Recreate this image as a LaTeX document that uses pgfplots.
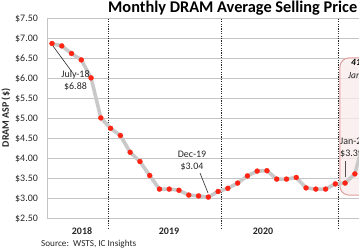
\documentclass[border=0pt]{standalone}
\usepackage{fontspec}
\setmainfont{Carlito}
\usepackage{pgfplots}
\pgfplotsset{compat=1.18}

\definecolor{gridgray}{HTML}{C4C4C4}
\definecolor{linegray}{HTML}{C9C9C9}
\definecolor{dotred}{HTML}{FF2414}
\definecolor{boxedge}{HTML}{E0A0A0}
\definecolor{boxfill}{HTML}{F9EBEB}
\definecolor{txt}{HTML}{262626}

\tikzset{yearline/.style={black!85, line width=0.8bp, dash pattern=on 1.2bp off 1.2bp}}

\begin{document}
\begin{tikzpicture}
% visible window of the chart
\useasboundingbox (0,0) rectangle (359bp,250bp);
\clip (0,0) rectangle (359bp,250bp);

\begin{axis}[
  at={(47.1bp,31.3bp)}, anchor=south west,
  scale only axis, width=400.6bp, height=200bp,
  xmin=-0.5, xmax=40.5, ymin=2.5, ymax=7.5,
  xtick=\empty,
  ytick={2.5,3,3.5,4,4.5,5,5.5,6,6.5,7,7.5},
  ymajorgrids,
  grid style={gridgray, line width=1.2bp},
  axis x line*=bottom, axis y line*=left,
  axis line style={gridgray, line width=1.2bp, -},
  major tick length=0pt,
  /pgf/number format/assume math mode=true,
  yticklabel={\$\pgfmathprintnumber[fixed,fixed zerofill,precision=2]{\tick}},
  yticklabel style={font=\fontsize{10}{12}\selectfont, text=txt, inner sep=0pt, xshift=-9bp},
  clip=false,
]
% highlight box for the 2021 run-up
\draw[boxedge, fill=boxfill, fill opacity=0.75, line width=1bp, rounded corners=9bp]
  (axis cs:29.47,6.52) rectangle (axis cs:38,3.09);

% year separators
\draw[yearline] (axis cs:5.73,7.5) -- (axis cs:5.73,2.24);
\draw[yearline] (axis cs:17.3,7.5) -- (axis cs:17.3,2.24);
\draw[yearline] (axis cs:29.27,7.5) -- (axis cs:29.27,2.24);

% monthly ASP, Jul-18 onwards
\addplot[linegray, line width=3.6bp, line join=round,
  mark=*, mark size=2.5bp,
  mark options={solid, fill=dotred, draw=dotred, line width=0.3bp}]
coordinates {
  (0,6.88) (1,6.82) (2,6.63) (3,6.47) (4,6.02) (5,5.02)
  (6,4.76) (7,4.58) (8,4.16) (9,3.93) (10,3.58) (11,3.24)
  (12,3.24) (13,3.21) (14,3.09) (15,3.07) (16,3.04) (17,3.18)
  (18,3.26) (19,3.39) (20,3.57) (21,3.69) (22,3.70) (23,3.49)
  (24,3.49) (25,3.53) (26,3.27) (27,3.24) (28,3.24) (29,3.37)
  (30,3.39) (31,3.62) (32,4.55) (33,4.75) (34,4.80)
};
\end{axis}

% title, axis label, years, source
\node[font=\bfseries\fontsize{16.4}{18}\selectfont, anchor=base west, inner sep=0pt]
  at (108bp,237.5bp) {Monthly DRAM Average Selling Price};
\node[rotate=90, font=\bfseries\fontsize{10}{12}\selectfont, text=txt, inner sep=0pt]
  at (6bp,132bp) {DRAM ASP (\$)};
\node[font=\bfseries\fontsize{10}{12}\selectfont, text=txt, inner sep=0pt] at (82bp,19bp) {2018};
\node[font=\bfseries\fontsize{10}{12}\selectfont, text=txt, inner sep=0pt] at (169bp,19bp) {2019};
\node[font=\bfseries\fontsize{10}{12}\selectfont, text=txt, inner sep=0pt] at (263bp,19bp) {2020};
\node[anchor=west, font=\fontsize{9.2}{11}\selectfont, text=txt, inner sep=0pt]
  at (41bp,6bp) {Source:\ \ WSTS, IC Insights};

% callouts
\node[align=center, font=\fontsize{10}{12}\selectfont, text=txt, inner sep=0pt]
  at (75.5bp,169bp) {July-18\\\$6.88};
\draw[txt, line width=0.6bp] (53bp,204bp) -- (72bp,178bp);

\node[align=center, font=\fontsize{10}{12}\selectfont, text=txt, inner sep=0pt]
  at (192bp,89.5bp) {Dec-19\\\$3.04};
\draw[txt, line width=0.6bp] (200bp,77bp) -- (208bp,57bp);

\node[align=left, anchor=west, font=\fontsize{10}{12}\selectfont, text=txt, inner sep=0pt]
  at (340bp,102bp) {Jan-21\\\$3.39};
\draw[txt!80, line width=0.8bp] (345.5bp,88.5bp) -- (345.5bp,73bp);

\node[anchor=west, font=\bfseries\itshape\fontsize{9.5}{11}\selectfont, inner sep=0pt]
  at (351bp,188bp) {41\% Increase};
\node[anchor=west, font=\itshape\fontsize{9.5}{11}\selectfont, text=txt, inner sep=0pt]
  at (348bp,175bp) {Jan-21 to Jun-21};
\end{tikzpicture}
\end{document}
